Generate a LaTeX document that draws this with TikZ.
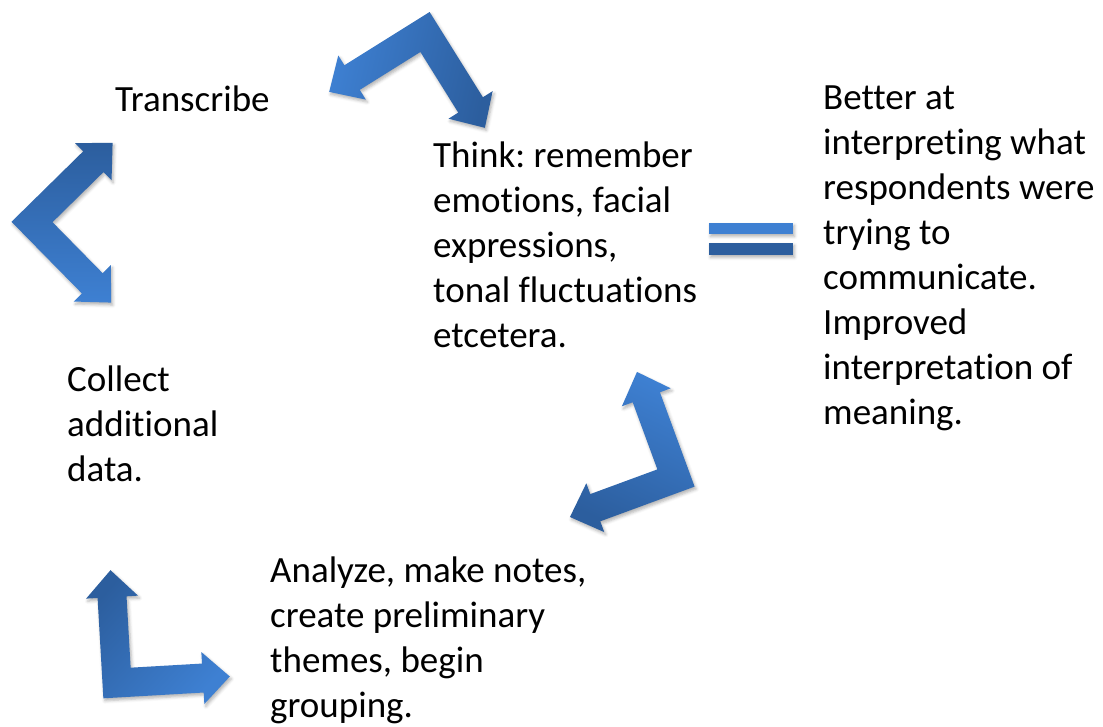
\documentclass[tikz,border=0pt]{standalone}
\usepackage{fontspec}
\setmainfont{Carlito}[Ligatures=NoCommon]
\frenchspacing
\usetikzlibrary{shadows.blur}

\definecolor{arrowlight}{RGB}{62,128,210}
\definecolor{arrowdark}{RGB}{44,94,158}

\tikzset{
  txt/.style={inner sep=0pt, align=left, font=\fontsize{37}{45}\selectfont, text=black},
  arrowshadow/.style={blur shadow={shadow xshift=1.5pt, shadow yshift=-2.5pt,
      shadow blur radius=3pt, shadow opacity=30}},
  % L-shaped double arrow: corner at the origin, one arm along +x, the other along +y
  pics/bentarrow/.style={code={
    \path[arrowshadow, top color=arrowdark, bottom color=arrowlight, shading angle=#1+45]
      (-14.5,-14.5) -- (86,-14.5) -- (86,-26) -- (113,0) -- (86,26) -- (86,14.5)
      -- (14.5,14.5) -- (14.5,86) -- (26,86) -- (0,113) -- (-26,86) -- (-14.5,86) -- cycle;
  }},
  eqbar/.style={arrowshadow}
}

\begin{document}
\begin{tikzpicture}[x=1pt, y=1pt]
\useasboundingbox (0,0) rectangle (1103,727);

% bent double arrows around the cycle
\coordinate (topbend) at (425,695);
\coordinate (leftbend) at (32,505);
\coordinate (rightbend) at (676,249);
\coordinate (bottombend) at (117,44);
\pic[rotate=212] at (topbend) {bentarrow=212};
\pic[rotate=-45.5] at (leftbend) {bentarrow=-45.5};
\pic[rotate=110.2] at (rightbend) {bentarrow=110.2};
\pic[rotate=3.3] at (bottombend) {bentarrow=3.3};

% equals sign
\coordinate (eqtop) at (709,493);
\coordinate (eqbot) at (709,472);
\fill[eqbar, arrowlight] (eqtop) rectangle ++(84,11);
\fill[eqbar, arrowdark] (eqbot) rectangle ++(84,12);

% texts (base anchor sits on the baseline of the last line)
\node[txt, anchor=base west] (transcribe) at (115,615) {Transcribe};
\node[txt, anchor=base west] (think) at (433,379)
  {Think: remember\\emotions, facial\\expressions,\\tonal fluctuations\\etcetera.};
\node[txt, anchor=base west] (better) at (823,302)
  {Better at\\interpreting what\\respondents were\\trying to\\communicate.\\Improved\\interpretation of\\meaning.};
\node[txt, anchor=base west] (collect) at (67,245) {Collect\\additional\\data.};
\node[txt, anchor=base west] (analyze) at (270,9)
  {Analyze, make notes,\\create preliminary\\themes, begin\\grouping.};
\end{tikzpicture}
\end{document}
